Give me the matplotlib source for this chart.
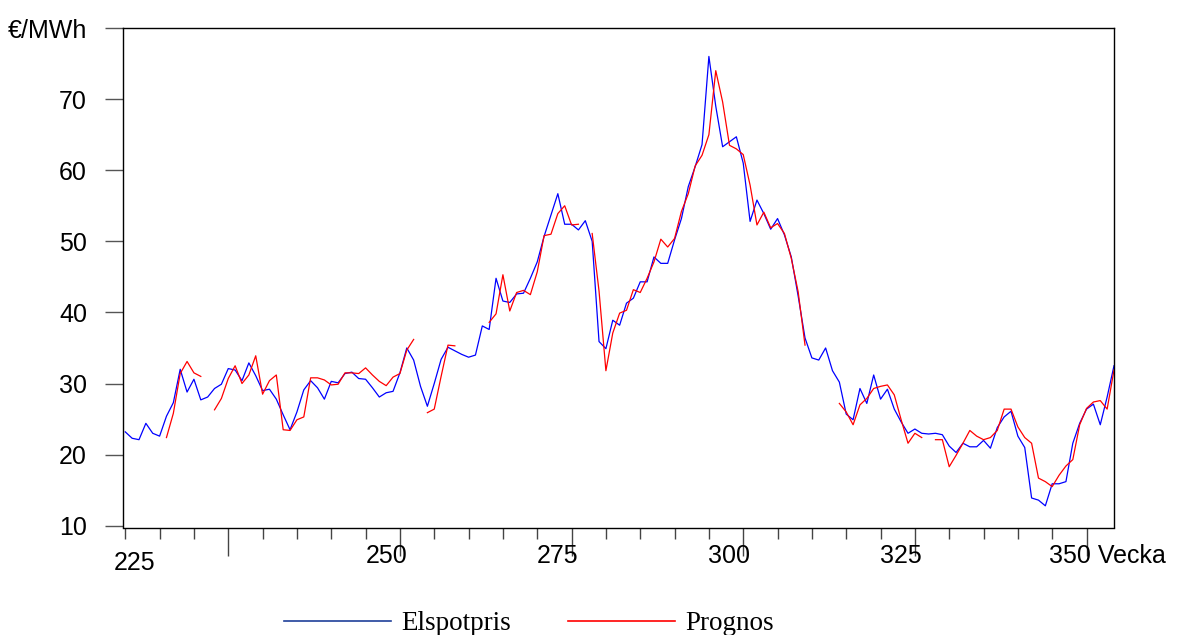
import numpy as np
import matplotlib.pyplot as plt
from matplotlib.lines import Line2D

# Veckor 210..354
vecka = np.arange(210, 355)

elspotpris = [
    23.2, 22.3, 22.1, 24.4, 23.0, 22.6, 25.4, 27.3, 32.0, 28.8,
    30.6, 27.7, 28.1, 29.3, 29.9, 32.1, 31.9, 30.4, 32.9, 31.1,
    29.0, 29.2, 27.8, 25.6, 23.5, 26.0, 29.1, 30.4, 29.4, 27.8,
    30.3, 30.1, 31.4, 31.6, 30.7, 30.6, 29.4, 28.1, 28.7, 28.9,
    31.5, 35.0, 33.3, 29.6, 26.8, 30.0, 33.4, 35.1, 34.6, 34.1,
    33.7, 34.0, 38.1, 37.6, 44.8, 41.6, 41.4, 42.6, 42.7, 44.8,
    47.1, 50.7, 53.7, 56.7, 52.4, 52.4, 51.6, 52.9, 50.0, 35.9,
    34.9, 38.9, 38.2, 41.3, 42.0, 44.3, 44.3, 47.8, 46.9, 46.9,
    50.2, 53.2, 57.7, 60.5, 63.6, 76.0, 69.0, 63.3, 64.0, 64.7,
    61.0, 52.8, 55.8, 53.9, 51.7, 53.2, 50.9, 47.8, 42.3, 36.4,
    33.6, 33.3, 35.0, 31.8, 30.2, 25.7, 24.9, 29.3, 27.2, 31.2,
    27.8, 29.2, 26.4, 24.6, 23.0, 23.6, 23.0, 22.9, 23.0, 22.8,
    21.2, 20.3, 21.6, 21.1, 21.1, 22.0, 20.9, 23.8, 25.3, 26.1,
    22.6, 21.0, 13.9, 13.6, 12.8, 15.9, 15.9, 16.2, 21.6, 24.4,
    26.4, 27.1, 24.2, 28.1, 32.5,
]

nan = np.nan
prognos = [
    nan, nan, nan, nan, nan, nan, 22.4, 25.8, 31.4, 33.1,
    31.5, 31.0, nan, 26.3, 27.9, 30.7, 32.5, 30.0, 31.2, 33.9,
    28.5, 30.4, 31.2, 23.5, 23.4, 24.9, 25.3, 30.8, 30.8, 30.5,
    29.8, 29.9, 31.5, 31.5, 31.4, 32.2, 31.2, 30.3, 29.7, 30.9,
    31.4, 34.7, 36.2, nan, 25.9, 26.4, 31.0, 35.4, 35.3, nan,
    nan, nan, nan, 38.6, 39.8, 45.3, 40.2, 42.8, 43.1, 42.5,
    45.7, 50.8, 51.0, 53.9, 55.0, 52.3, 52.4, nan, 51.1, 43.0,
    31.8, 37.1, 39.9, 40.3, 43.2, 42.8, 44.8, 47.1, 50.3, 49.2,
    50.4, 54.2, 56.7, 60.6, 62.1, 65.0, 74.0, 69.6, 63.5, 63.0,
    62.2, 57.9, 52.3, 54.1, 51.9, 52.5, 51.1, 47.6, 42.9, 35.4,
    nan, nan, nan, nan, 27.2, 26.0, 24.2, 27.0, 27.9, 29.3,
    29.6, 29.8, 28.4, 24.9, 21.6, 23.0, 22.4, nan, 22.1, 22.1,
    18.3, 19.9, 21.6, 23.4, 22.6, 22.1, 22.4, 23.4, 26.4, 26.4,
    23.9, 22.4, 21.6, 16.7, 16.2, 15.5, 17.1, 18.4, 19.3, 24.2,
    26.5, 27.4, 27.6, 26.4, 31.9,
]

y_ticks = [10, 20, 30, 40, 50, 60, 70, 80]
y_labels = ['10', '20', '30', '40', '50', '60', '70', '€/MWh']
x_labels = {250: '250', 275: '275', 300: '300', 325: '325'}

W, H = 1177, 635
fig = plt.figure(figsize=(W / 100, H / 100), dpi=100)
ax = fig.add_axes([123 / W, 1 - 527.5 / H, 991 / W, 499.5 / H])

ax.plot(vecka, elspotpris, color='#0000ff', lw=0.9)
ax.plot(vecka, prognos, color='#ff0000', lw=0.9)

ax.set_xlim(209.67, 354.0)
ax.set_ylim(9.75, 80)

for s in ax.spines.values():
    s.set_linewidth(1.0)
    s.set_color('black')

# y-axel
ax.set_yticks(y_ticks)
ax.set_yticklabels(y_labels, fontfamily='Liberation Sans', fontsize=18)
ax.tick_params(axis='y', direction='out', length=13, width=1, color='#555555', pad=13)

# x-axel: korta streck var 5:e vecka, långa var 25:e
ax.set_xticks(range(210, 355, 5), minor=True)
ax.set_xticks(range(225, 351, 25))
ax.set_xticklabels([])
ax.tick_params(axis='x', which='minor', direction='out', length=8, width=1, color='#444444')
ax.tick_params(axis='x', which='major', direction='out', length=20, width=1, color='#444444')

tr = ax.get_xaxis_transform()
lab_font = dict(fontfamily='Liberation Sans', fontsize=18, va='top')
for v, txt in x_labels.items():
    ax.text(v - 2.0, -0.033, txt, transform=tr, ha='center', **lab_font)
ax.text(211.3, -0.047, '225', transform=tr, ha='center', **lab_font)
ax.text(344.6, -0.033, '350 Vecka', transform=tr, ha='left', **lab_font)

handles = [Line2D([], [], color='#1f3f99', lw=1.2),
           Line2D([], [], color='#ff0000', lw=1.2)]
fig.legend(handles, ['Elspotpris', 'Prognos'], loc='center',
           bbox_to_anchor=(529 / W, 1 - 624 / H), ncol=2, frameon=False,
           prop={'family': 'Liberation Serif', 'size': 19.5},
           handlelength=3.95, handletextpad=0.37, columnspacing=2.1)

fig.savefig('out.png', dpi=100)
